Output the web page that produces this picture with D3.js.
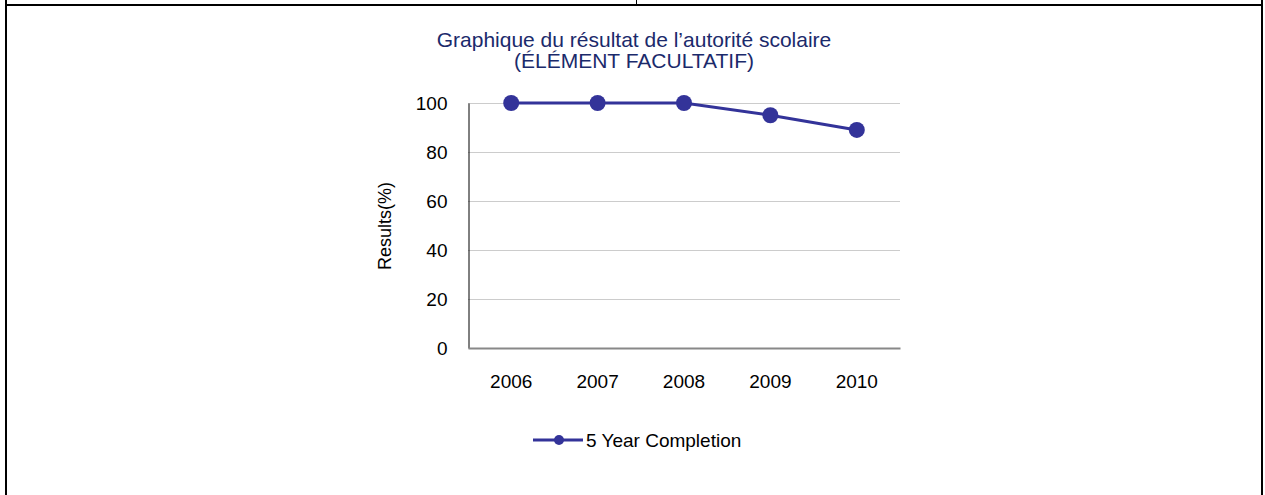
<html>
    <head>
        <meta charset="utf-8">
        <script src="https://d3js.org/d3.v7.min.js"></script>
        <style>
            body { margin: 0; background: #fff; }
            text { font-family: "Liberation Sans", Arial, sans-serif; }
        </style>
    </head>
    <body>
        <svg id="chart" height="495" width="1265"></svg>
        <script>
            const years = ['2006', '2007', '2008', '2009', '2010']
            const completion = [100, 100, 100, 95, 89]
            const yTicks = [0, 20, 40, 60, 80, 100]
            const seriesName = '5 Year Completion'
            const titleLines = ['Graphique du résultat de l\u2019autorité scolaire', '(ÉLÉMENT FACULTATIF)']

            const svg = d3.select('svg#chart')
            const navy = '#333399'

            // page frame
            svg.append('line').attr('x1', 6).attr('x2', 1263).attr('y1', 5).attr('y2', 5)
                .attr('stroke', '#000').attr('stroke-width', 2)
            svg.append('line').attr('x1', 6).attr('x2', 6).attr('y1', 0).attr('y2', 495)
                .attr('stroke', '#000').attr('stroke-width', 2)
            svg.append('line').attr('x1', 1262).attr('x2', 1262).attr('y1', 0).attr('y2', 495)
                .attr('stroke', '#000').attr('stroke-width', 2)
            svg.append('line').attr('x1', 636.5).attr('x2', 636.5).attr('y1', 0).attr('y2', 5)
                .attr('stroke', '#000').attr('stroke-width', 1)

            // title
            svg.append('text').attr('x', 634).attr('y', 47).attr('text-anchor', 'middle')
                .attr('font-size', 21).attr('fill', '#1b2a6b')
                .selectAll('tspan').data(titleLines).join('tspan')
                .attr('x', 634).attr('dy', (d, i) => i ? 21 : 0).text(d => d)

            const plotLeft = 468, plotRight = 900, plotTop = 103, plotBottom = 348

            const xScale = d3.scaleBand().domain(years).range([plotLeft, plotRight])
            const yScale = d3.scaleLinear().domain([0, 100]).range([plotBottom, plotTop])

            // gridlines
            svg.append('g').selectAll('line').data(yTicks.filter(d => d > 0)).join('line')
                .attr('x1', plotLeft).attr('x2', plotRight)
                .attr('y1', d => yScale(d) + 0.5).attr('y2', d => yScale(d) + 0.5)
                .attr('stroke', '#cccccc').attr('stroke-width', 1)

            // y axis
            const yAxis = d3.axisLeft(yScale).tickValues(yTicks).tickSize(0).tickPadding(21)
            const yg = svg.append('g').attr('transform', `translate(${plotLeft + 0.5},0)`).call(yAxis)
            yg.select('.domain').attr('stroke', '#000')
            yg.selectAll('text').attr('font-size', 19).attr('fill', '#000')
                .attr('font-family', '"Liberation Sans", Arial, sans-serif')

            // x axis
            const xAxis = d3.axisBottom(xScale).tickSize(0).tickPadding(27)
            const xg = svg.append('g').attr('transform', `translate(0,${plotBottom})`).call(xAxis)
            xg.select('.domain').attr('stroke', '#888').attr('stroke-width', 2)
            xg.selectAll('text').attr('font-size', 19).attr('fill', '#000')
                .attr('font-family', '"Liberation Sans", Arial, sans-serif')

            // y label
            svg.append('text').attr('transform', 'translate(391,226) rotate(-90)')
                .attr('text-anchor', 'middle').attr('font-size', 18).attr('fill', '#000')
                .text('Results(%)')

            // line + markers
            const pts = years.map((y, i) => ({ year: y, value: completion[i] }))
            const line = d3.line().x(d => xScale(d.year) + xScale.bandwidth() / 2).y(d => yScale(d.value))
            svg.append('path').datum(pts).attr('d', line)
                .attr('fill', 'none').attr('stroke', navy).attr('stroke-width', 3)
            svg.append('g').selectAll('circle').data(pts).join('circle')
                .attr('cx', d => xScale(d.year) + xScale.bandwidth() / 2)
                .attr('cy', d => yScale(d.value))
                .attr('r', 8).attr('fill', navy)

            // legend
            const lg = svg.append('g').attr('transform', 'translate(533,440)')
            lg.append('line').attr('x1', 0).attr('x2', 50).attr('y1', 0).attr('y2', 0)
                .attr('stroke', navy).attr('stroke-width', 3)
            lg.append('circle').attr('cx', 26).attr('cy', 0).attr('r', 5).attr('fill', navy)
            lg.append('text').attr('x', 53).attr('y', 7).attr('font-size', 19).attr('fill', '#000')
                .text(seriesName)
        </script>
    </body>
</html>
